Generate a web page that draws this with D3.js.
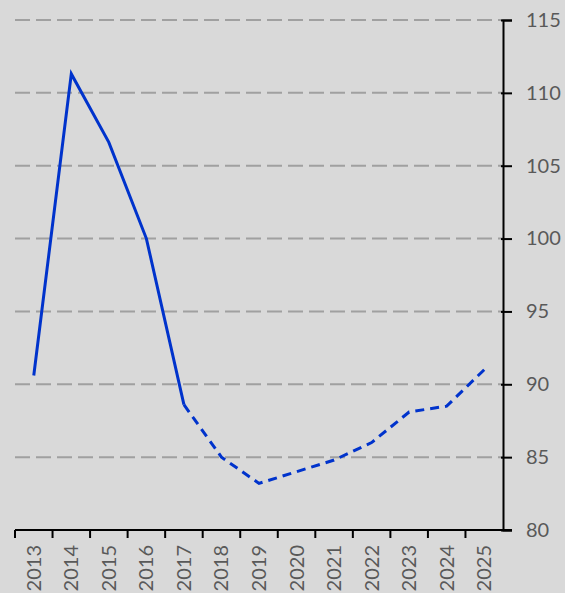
<!DOCTYPE html>
<html>
<head>
<meta charset="utf-8">
<script src="https://cdn.jsdelivr.net/npm/d3@7"></script>
<style>
  html, body { margin: 0; padding: 0; background: #d9d9d9; }
  svg { display: block; }
  text { font-family: Lato, "Liberation Sans", sans-serif; fill: #595959; }
</style>
</head>
<body>
<div id="chart"></div>
<script>
(function () {
  "use strict";

  const YEARS = ["2013", "2014", "2015", "2016", "2017", "2018", "2019",
                 "2020", "2021", "2022", "2023", "2024", "2025"];
  const VALUES = [90.6, 111.3, 106.6, 100.0, 88.6, 85.0, 83.2,
                  84.0, 84.8, 86.0, 88.1, 88.5, 91.0];
  const LAST_ACTUAL = "2017";
  const Y_TICKS = [80, 85, 90, 95, 100, 105, 110, 115];

  const W = 565, H = 593;
  const plot = { left: 15, right: 503, top: 20, bottom: 530 };

  const svg = d3.select("#chart").append("svg")
    .attr("width", W).attr("height", H);

  const x = d3.scaleBand().domain(YEARS).range([plot.left, plot.right]);
  const y = d3.scaleLinear().domain([80, 115]).range([plot.bottom, plot.top]);

  // Gridlines
  svg.append("g")
    .selectAll("line")
    .data(Y_TICKS.filter(v => v > 80))
    .enter()
    .append("line")
    .attr("x1", plot.left).attr("x2", plot.right)
    .attr("y1", d => y(d)).attr("y2", d => y(d))
    .attr("stroke", "#a0a0a0")
    .attr("stroke-width", 2)
    .attr("stroke-dasharray", "15,6");

  // Lines
  const line = d3.line()
    .x(d => x(d.year) + x.bandwidth() / 2)
    .y(d => y(d.value));

  const data = YEARS.map((yr, i) => ({ year: yr, value: VALUES[i] }));
  const cut = YEARS.indexOf(LAST_ACTUAL);

  svg.append("path")
    .datum(data.slice(0, cut + 1))
    .attr("d", line)
    .attr("fill", "none")
    .attr("stroke", "#0033cc")
    .attr("stroke-width", 3);

  svg.append("path")
    .datum(data.slice(cut))
    .attr("d", line)
    .attr("fill", "none")
    .attr("stroke", "#0033cc")
    .attr("stroke-width", 3)
    .attr("stroke-dasharray", "9,6");

  // Right axis
  const yAxis = svg.append("g")
    .attr("transform", `translate(${plot.right},0)`)
    .call(d3.axisRight(y).tickValues(Y_TICKS).tickSize(9).tickPadding(14));
  yAxis.select(".domain").attr("stroke", "#000").attr("stroke-width", 2);
  yAxis.selectAll(".tick line").attr("stroke", "#000").attr("stroke-width", 2).attr("x1", -2);
  yAxis.selectAll(".tick text")
    .attr("font-size", 20)
    .attr("font-family", "Lato, 'Liberation Sans', sans-serif")
    .attr("fill", "#595959");

  // Bottom axis
  const xAxis = svg.append("g")
    .attr("transform", `translate(0,${plot.bottom})`);
  xAxis.append("line")
    .attr("x1", plot.left).attr("x2", plot.right + 9)
    .attr("stroke", "#000").attr("stroke-width", 2);
  xAxis.selectAll("line.tk")
    .data(YEARS)
    .enter()
    .append("line")
    .attr("class", "tk")
    .attr("x1", d => x(d)).attr("x2", d => x(d))
    .attr("y1", 0).attr("y2", 8)
    .attr("stroke", "#000").attr("stroke-width", 2);
  xAxis.selectAll("text")
    .data(YEARS)
    .enter()
    .append("text")
    .attr("transform", d => `translate(${x(d) + x.bandwidth() / 2 + 7},15) rotate(-90)`)
    .attr("text-anchor", "end")
    .attr("font-size", 20)
    .text(d => d);
})();
</script>
</body>
</html>
